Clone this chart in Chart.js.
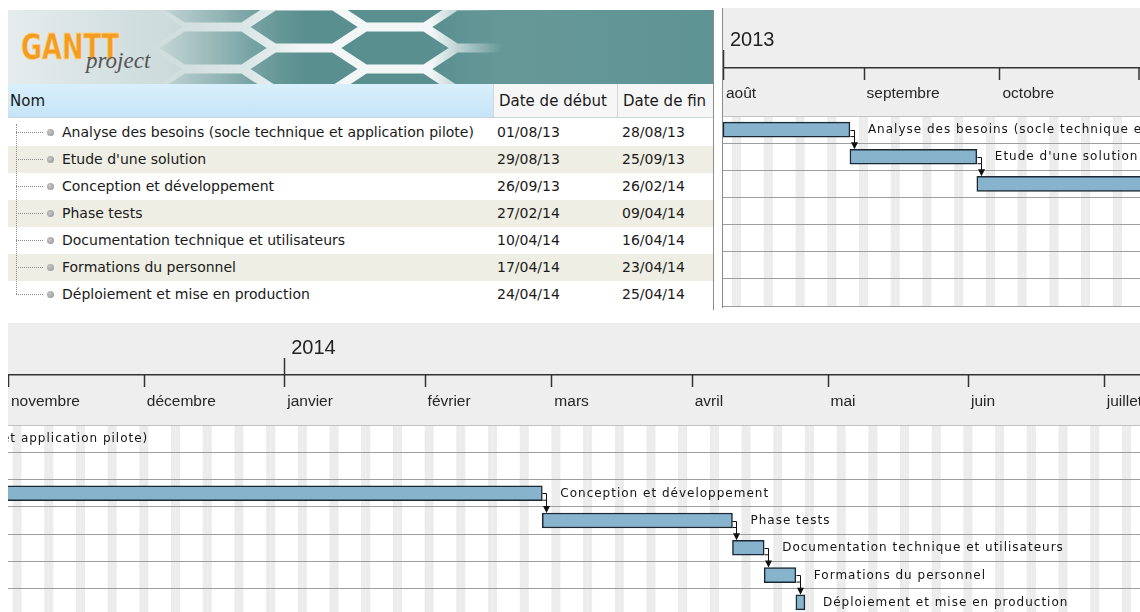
<!DOCTYPE html>
<html lang="fr">
<head>
<meta charset="utf-8">
<title>GanttProject - planning</title>
<script src="https://cdn.jsdelivr.net/npm/chart.js@4.4.1/dist/chart.umd.min.js"></script>
<style>
  html, body { margin: 0; padding: 0; background: #fff; }
  body { width: 1140px; height: 612px; overflow: hidden; position: relative; font-family: "DejaVu Sans", sans-serif; color: #1a1a1a; }
  #banner { position: absolute; left: 8px; top: 10px; }
  #table { position: absolute; left: 8px; top: 84px; width: 705px; height: 226px; border-right: 1px solid #8c8c8c; }
  #splitTop { position: absolute; left: 713px; top: 10px; height: 74px; border-left: 1px solid #8c8c8c; }
  .hdr { position: absolute; top: 0; height: 34px; line-height: 34px; font-size: 15px; border-bottom: 1px solid #c9d3da; box-sizing: border-box; }
  .hdr.nom { left: 0; width: 485px; padding-left: 2px; background: linear-gradient(#d9effc, #c5e4f7); }
  .hdr.deb { left: 485px; width: 124px; padding-left: 5px; background: #f6f6f6; border-left: 1px solid #d6d6d6; }
  .hdr.fin { left: 609px; width: 96px; padding-left: 5px; background: #f6f6f6; border-left: 1px solid #d6d6d6; }
  .row { position: absolute; left: 0; width: 705px; height: 27px; font-size: 14px; line-height: 27px; white-space: nowrap; }
  .row.alt { background: #eeeee4; }
  .row .branch { position: absolute; left: 8px; top: 13px; width: 27px; border-top: 1px dotted #8a8a8a; }
  .row .dot { position: absolute; left: 39px; top: 10px; width: 7px; height: 7px; border-radius: 50%; background: radial-gradient(circle at 40% 40%, #c8c8c8, #8e8e8e); }
  .row .name { position: absolute; left: 54px; }
  .row .d1 { position: absolute; left: 489px; }
  .row .d2 { position: absolute; left: 614px; }
  #trunk { position: absolute; left: 8px; width: 0; border-left: 1px dotted #8a8a8a; }
  #topGantt { position: absolute; left: 722px; top: 8px; width: 417px; height: 300px; border-left: 1px solid #8a8a8a; }
  #bottomGantt { position: absolute; left: 8px; top: 323px; width: 1132px; height: 293px; }
</style>
</head>
<body>
<svg id="banner" width="705" height="74" viewBox="0 0 705 74"></svg>
<div id="splitTop"></div>
<div id="table"></div>
<div id="topGantt"><canvas id="cTop" width="417" height="300"></canvas></div>
<div id="bottomGantt"><canvas id="cBottom" width="1132" height="293"></canvas></div>

<script>
// ---- data ----
const tasks = [
  "Analyse des besoins (socle technique et application pilote)",
  "Etude d'une solution",
  "Conception et développement",
  "Phase tests",
  "Documentation technique et utilisateurs",
  "Formations du personnel",
  "Déploiement et mise en production"
];
const startDates = ["2013-08-01", "2013-08-29", "2013-09-26", "2014-02-27", "2014-04-10", "2014-04-17", "2014-04-24"];
const endDates   = ["2013-08-28", "2013-09-25", "2014-02-26", "2014-04-09", "2014-04-16", "2014-04-23", "2014-04-25"];

const monthNames = ["janvier", "février", "mars", "avril", "mai", "juin", "juillet", "août", "septembre", "octobre", "novembre", "décembre"];
const topRange = ["2013-08-01", "2013-11-01"];
const topMonthTicks = ["2013-08-01", "2013-09-01", "2013-10-01", "2013-11-01"];
const topYearTicks = ["2013-08-01"];
const topYearLabels = ["2013"];
const bottomRange = ["2013-11-01", "2014-07-09"];
const bottomMonthTicks = ["2013-11-01", "2013-12-01", "2014-01-01", "2014-02-01", "2014-03-01", "2014-04-01", "2014-05-01", "2014-06-01", "2014-07-01"];
const bottomYearTicks = ["2014-01-01"];
const bottomYearLabels = ["2014"];

const DAY = 864e5;
const day = s => Date.UTC(+s.slice(0, 4), +s.slice(5, 7) - 1, +s.slice(8, 10)) / DAY;
const fmt = s => s.slice(8, 10) + "/" + s.slice(5, 7) + "/" + s.slice(2, 4);

// ---- logo banner ----
(function () {
  const svg = document.getElementById("banner");
  let hex = "";
  const w = 58, h = 19;
  [[205, -4], [205, 38], [205, 80], [296, 17], [296, 59], [387, -4], [387, 38], [387, 80], [478, 17], [478, 59]].forEach(([cx, cy]) => {
    hex += `<polygon points="${cx - w},${cy} ${cx - w / 2},${cy - h} ${cx + w / 2},${cy - h} ${cx + w},${cy} ${cx + w / 2},${cy + h} ${cx - w / 2},${cy + h}"/>`;
  });
  svg.innerHTML = `
    <defs>
      <linearGradient id="bg" x1="0" x2="705" gradientUnits="userSpaceOnUse">
        <stop offset="0" stop-color="#e6eced"/>
        <stop offset="0.3" stop-color="#c3d5d5"/>
        <stop offset="0.55" stop-color="#6a9a9a"/>
        <stop offset="1" stop-color="#5f9494"/>
      </linearGradient>
      <linearGradient id="fade" x1="0" x2="705" gradientUnits="userSpaceOnUse">
        <stop offset="0.2" stop-color="#fff" stop-opacity="0"/>
        <stop offset="0.42" stop-color="#fff" stop-opacity="1"/>
        <stop offset="0.6" stop-color="#fff" stop-opacity="1"/>
        <stop offset="0.7" stop-color="#fff" stop-opacity="0"/>
      </linearGradient>
      <mask id="m"><rect width="705" height="74" fill="url(#fade)"/></mask>
    </defs>
    <rect width="705" height="74" fill="url(#bg)"/>
    <g mask="url(#m)" fill="#5a8f8f" stroke="#f2f6f6" stroke-width="5">${hex}</g>
    <text x="13" y="49" font-family="DejaVu Sans" font-weight="bold" font-size="36" fill="#f39c1e" stroke="#fbd08a" stroke-width="0.8" textLength="98" lengthAdjust="spacingAndGlyphs">GANTT</text>
    <text x="78" y="58" font-family="Liberation Serif" font-style="italic" font-size="23" fill="#555">project</text>`;
})();

// ---- task table ----
(function () {
  const table = document.getElementById("table");
  let html = `<div class="hdr nom">Nom</div><div class="hdr deb">Date de début</div><div class="hdr fin">Date de fin</div>`;
  tasks.forEach((name, i) => {
    html += `<div class="row${i % 2 ? " alt" : ""}" style="top:${35 + i * 27}px">
      <span class="branch"></span><span class="dot"></span>
      <span class="name">${name}</span><span class="d1">${fmt(startDates[i])}</span><span class="d2">${fmt(endDates[i])}</span></div>`;
  });
  html += `<div id="trunk" style="top:${35 + 5}px;height:${(tasks.length - 1) * 27 + 8}px"></div>`;
  table.innerHTML = html;
})();

// ---- gantt drawing extras: header, weekends, dependencies, task labels ----
const ganttDecor = {
  id: "ganttDecor",
  beforeDraw(chart) {
    const { ctx, chartArea: a, scales: { x } } = chart;
    ctx.save();
    ctx.fillStyle = "#eeeeee";
    ctx.fillRect(0, 0, chart.width, a.top);
    ctx.fillStyle = "#ffffff";
    ctx.fillRect(a.left, a.top, a.right - a.left, a.bottom - a.top);
    // weekends
    ctx.fillStyle = "#ececec";
    for (let d = Math.floor(x.min); d < x.max; d++) {
      const wd = new Date(d * DAY).getUTCDay();
      if (wd === 0 || wd === 6) {
        const x0 = Math.max(x.getPixelForValue(d), a.left);
        const x1 = Math.min(x.getPixelForValue(d + 1), a.right);
        if (x1 > x0) ctx.fillRect(x0, a.top, x1 - x0, a.bottom - a.top);
      }
    }
    ctx.restore();
  },
  afterDraw(chart) {
    const { ctx, chartArea: a, scales: { x, cal } } = chart;
    ctx.save();
    // month marks hanging under the calendar line
    ctx.strokeStyle = "#333";
    ctx.lineWidth = 1.5;
    x.ticks.forEach(t => {
      const px = Math.min(Math.round(x.getPixelForValue(t.value)) + 0.5, chart.width - 1);
      ctx.beginPath();
      ctx.moveTo(px, cal.bottom);
      ctx.lineTo(px, cal.bottom + 12);
      ctx.stroke();
    });
    ctx.restore();

    // dependencies + labels inside the chart rows
    const meta = chart.getDatasetMeta(0);
    ctx.save();
    ctx.beginPath();
    ctx.rect(0, a.top, chart.width, a.bottom - a.top);
    ctx.clip();
    ctx.strokeStyle = "#111";
    ctx.fillStyle = "#111";
    ctx.lineWidth = 1;
    for (let i = 0; i < meta.data.length - 1; i++) {
      const b = meta.data[i], nb = meta.data[i + 1];
      const ex = Math.round(b.x) + 0.5, ax = ex + 4;
      const bottom = b.y + b.height / 2, nTop = nb.y - nb.height / 2;
      ctx.beginPath();
      ctx.moveTo(ex, Math.round(b.y) + 0.5);
      ctx.lineTo(ax, Math.round(b.y) + 0.5);
      ctx.lineTo(ax, nTop - 5);
      ctx.moveTo(ex, bottom - 0.5);
      ctx.lineTo(ax, bottom - 0.5);
      ctx.stroke();
      ctx.beginPath();
      ctx.moveTo(ax - 3.5, nTop - 7);
      ctx.lineTo(ax + 3.5, nTop - 7);
      ctx.lineTo(ax, nTop);
      ctx.closePath();
      ctx.fill();
    }
    ctx.font = '12px "DejaVu Sans"';
    ctx.letterSpacing = "1px";
    ctx.textBaseline = "middle";
    ctx.fillStyle = "#141414";
    meta.data.forEach((b, i) => ctx.fillText(tasks[i], b.x + 18, b.y + 0.5));
    ctx.letterSpacing = "0px";
    ctx.restore();
  }
};

function makeGantt(id, range, monthTicks, yearTicks, yearLabels, h) {
  const noPad = s => { s.paddingLeft = 0; s.paddingRight = 0; };
  return new Chart(document.getElementById(id), {
    type: "bar",
    data: {
      labels: tasks,
      datasets: [{
        data: tasks.map((t, i) => [day(startDates[i]), day(endDates[i]) + 1]),
        backgroundColor: "#87b3cd",
        borderColor: "#1b2733",
        borderWidth: 1.5,
        borderSkipped: false,
        barThickness: 15,
        clip: 0
      }]
    },
    options: {
      indexAxis: "y",
      responsive: false,
      animation: false,
      devicePixelRatio: 1,
      layout: { padding: { bottom: h.bottom }, autoPadding: false },
      plugins: { legend: { display: false }, tooltip: { enabled: false } },
      scales: {
        cal: {
          axis: "x",
          type: "linear",
          position: "top",
          weight: 2,
          min: day(range[0]),
          max: day(range[1]),
          afterBuildTicks: s => { s.ticks = yearTicks.map(v => ({ value: day(v) })); },
          afterFit: s => { s.height = h.cal; noPad(s); },
          ticks: {
            align: "start",
            labelOffset: 7,
            padding: 0,
            autoSkip: false,
            maxRotation: 0,
            color: "#222",
            font: { family: '"Liberation Sans", Arial, sans-serif', size: 20, lineHeight: 1 },
            callback: (v, i) => yearLabels[i]
          },
          grid: { drawOnChartArea: false, drawTicks: true, tickLength: h.calTick, color: "#333", tickColor: "#333", tickWidth: 1.5 },
          border: { color: "#333", width: 1.5 }
        },
        x: {
          type: "linear",
          position: "top",
          weight: 1,
          min: day(range[0]),
          max: day(range[1]),
          afterBuildTicks: s => { s.ticks = monthTicks.map(v => ({ value: day(v) })); },
          afterFit: s => { s.height = h.month; noPad(s); },
          ticks: {
            align: "start",
            labelOffset: 3,
            padding: h.monthPad,
            autoSkip: false,
            maxRotation: 0,
            color: "#262626",
            font: { family: '"Liberation Sans", Arial, sans-serif', size: 15.5, lineHeight: 1.2 },
            callback: v => monthNames[new Date(v * DAY).getUTCMonth()]
          },
          grid: { display: false },
          border: { color: "#c2c2c2", width: 1 }
        },
        y: {
          type: "category",
          offset: true,
          ticks: { display: false },
          grid: { offset: true, color: "#9e9e9e", lineWidth: 1, drawTicks: false },
          border: { display: false },
          afterFit: s => { s.width = 0; }
        }
      }
    },
    plugins: [ganttDecor]
  });
}

makeGantt("cTop", topRange, topMonthTicks, topYearTicks, topYearLabels,
  { cal: 60, calTick: 18, month: 48, monthPad: 5, bottom: 2 });
makeGantt("cBottom", bottomRange, bottomMonthTicks, bottomYearTicks, bottomYearLabels,
  { cal: 52, calTick: 17, month: 50, monthPad: 6, bottom: 0 });
</script>
</body>
</html>
